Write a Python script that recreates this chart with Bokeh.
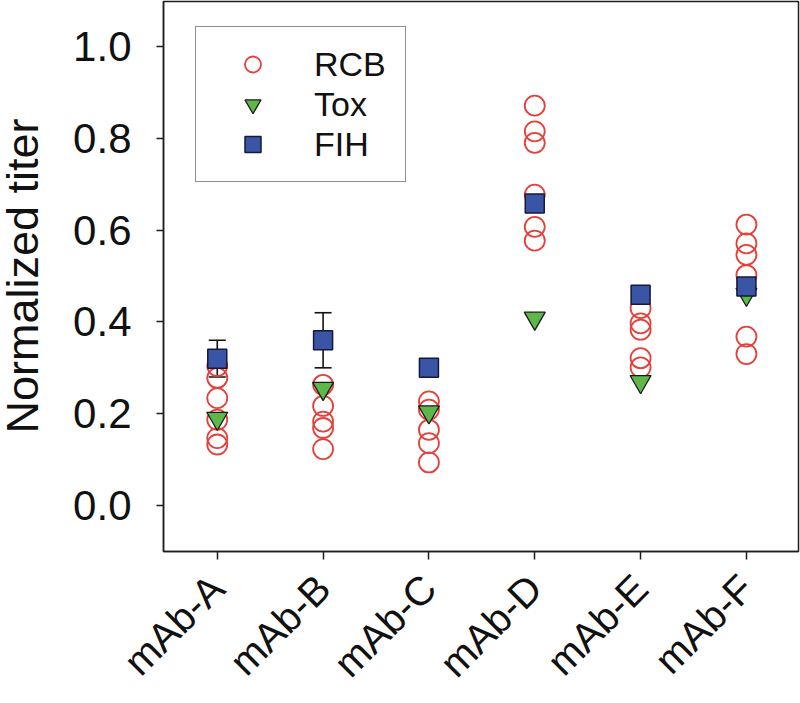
import math
from bokeh.plotting import figure
from bokeh.layouts import row
from bokeh.models import (Range1d, FixedTicker, PrintfTickFormatter, ColumnDataSource,
                          Whisker, TeeHead, Legend, LegendItem, Label)
from bokeh.embed import file_html
from bokeh.resources import INLINE

# ---------------- data ----------------
categories = ["mAb-A", "mAb-B", "mAb-C", "mAb-D", "mAb-E", "mAb-F"]

rcb_A = [0.304, 0.278, 0.234, 0.187, 0.147, 0.133]
rcb_B = [0.263, 0.217, 0.183, 0.169, 0.123]
rcb_C = [0.227, 0.209, 0.165, 0.136, 0.094]
rcb_D = [0.871, 0.815, 0.790, 0.677, 0.607, 0.577]
rcb_E = [0.430, 0.397, 0.383, 0.321, 0.301]
rcb_F = [0.612, 0.571, 0.546, 0.502, 0.368, 0.330]

tox = [0.190, 0.255, 0.204, 0.408, 0.270, 0.460]
fih = [0.320, 0.360, 0.300, 0.658, 0.459, 0.477]
fih_err = [0.040, 0.060, 0.0, 0.0, 0.0, 0.007]

y_ticks = [0.0, 0.2, 0.4, 0.6, 0.8, 1.0]
y_title = "Normalized titer"
legend_labels = ["RCB", "Tox", "FIH"]

# ---------------- sources ----------------
rcb_groups = [rcb_A, rcb_B, rcb_C, rcb_D, rcb_E, rcb_F]
rcb_x, rcb_y = [], []
for i, grp in enumerate(rcb_groups):
    for v in grp:
        rcb_x.append(i)
        rcb_y.append(v)
rcb_src = ColumnDataSource(dict(x=rcb_x, y=rcb_y))

idx = list(range(len(categories)))
tox_src = ColumnDataSource(dict(x=idx, y=tox))
fih_src = ColumnDataSource(dict(x=idx, y=fih))

ex = [i for i, e in zip(idx, fih_err) if e > 0]
eu = [f + e for f, e in zip(fih, fih_err) if e > 0]
el = [f - e for f, e in zip(fih, fih_err) if e > 0]
err_src = ColumnDataSource(dict(x=ex, upper=eu, lower=el))

FONT = "Liberation Sans"
DARK = "#1e1e1e"
TW = 62          # width of the strip that carries the y-axis title
H = 703

yr = Range1d(-0.1, 1.0978)

# ---------------- main plot ----------------
p = figure(width=800 - TW, height=H, output_backend="svg", toolbar_location=None,
           x_range=Range1d(-0.508, 5.492), y_range=yr,
           min_border_left=163 - TW, min_border_right=2, min_border_top=1,
           min_border_bottom=151)

# ---------------- title strip (shares the y scale) ----------------
tfig = figure(width=TW, height=H, output_backend="svg", toolbar_location=None,
              x_range=Range1d(0, TW), y_range=yr,
              min_border=0, min_border_left=0, min_border_right=0,
              min_border_top=1, min_border_bottom=151)
tfig.axis.visible = False
tfig.grid.visible = False
tfig.outline_line_color = None
tfig.background_fill_color = "white"
tfig.border_fill_color = "white"
tfig.add_layout(Label(x=22, y=0.5, text=y_title, angle=math.pi / 2,
                      text_font=FONT, text_font_size="45px", text_color="#111111",
                      text_align="center", text_baseline="alphabetic"))

p.xgrid.visible = False
p.ygrid.visible = False
p.outline_line_color = DARK
p.outline_line_width = 1.5
p.background_fill_color = "white"
p.border_fill_color = "white"

# x axis
p.xaxis.ticker = FixedTicker(ticks=idx)
p.xaxis.major_label_overrides = {i: c for i, c in zip(idx, categories)}
p.xaxis.major_label_orientation = math.pi / 4
p.xaxis.major_label_text_font = FONT
p.xaxis.major_label_text_font_size = "40px"
p.xaxis.major_label_text_color = "#111111"
p.xaxis.major_label_standoff = 22
p.xaxis.major_tick_out = 8
p.xaxis.major_tick_in = 0

# y axis
p.yaxis.ticker = FixedTicker(ticks=y_ticks)
p.yaxis.formatter = PrintfTickFormatter(format="%.1f")
p.yaxis.major_label_text_font = FONT
p.yaxis.major_label_text_font_size = "42px"
p.yaxis.major_label_text_color = "#111111"
p.yaxis.major_label_standoff = 25
p.yaxis.major_tick_out = 7
p.yaxis.major_tick_in = 0

for ax in (p.xaxis, p.yaxis):
    ax.minor_tick_line_color = None
    ax.axis_line_color = DARK
    ax.axis_line_width = 1.5
    ax.major_tick_line_color = DARK
    ax.major_tick_line_width = 1.5

# glyphs
r_rcb = p.scatter("x", "y", source=rcb_src, marker="circle", size=20,
                  fill_color=None, line_color="#e5403a", line_width=1.8)
r_tox = p.scatter("x", "y", source=tox_src, marker="inverted_triangle", size=21,
                  fill_color="#5cb849", line_color="#1a1a1a", line_width=1.3)
wh = Whisker(source=err_src, base="x", upper="upper", lower="lower",
             line_color="#111111", line_width=1.6,
             upper_head=TeeHead(size=17, line_color="#111111", line_width=1.6),
             lower_head=TeeHead(size=17, line_color="#111111", line_width=1.6))
p.add_layout(wh)
r_fih = p.scatter("x", "y", source=fih_src, marker="square", size=19,
                  fill_color="#3a54a6", line_color="#15193a", line_width=1.5)

legend = Legend(items=[LegendItem(label=legend_labels[0], renderers=[r_rcb]),
                       LegendItem(label=legend_labels[1], renderers=[r_tox]),
                       LegendItem(label=legend_labels[2], renderers=[r_fih])],
                location=(32, 369), margin=0, padding=17, spacing=0,
                glyph_width=79, glyph_height=40, label_standoff=22, label_width=74,
                label_height=40,
                label_text_font=FONT, label_text_font_size="34px",
                label_text_color="#111111",
                border_line_color=DARK, border_line_width=1.5,
                background_fill_color="white", background_fill_alpha=1.0)
p.add_layout(legend)

layout = row(tfig, p)
open("out.html", "w").write(file_html(layout, INLINE))
